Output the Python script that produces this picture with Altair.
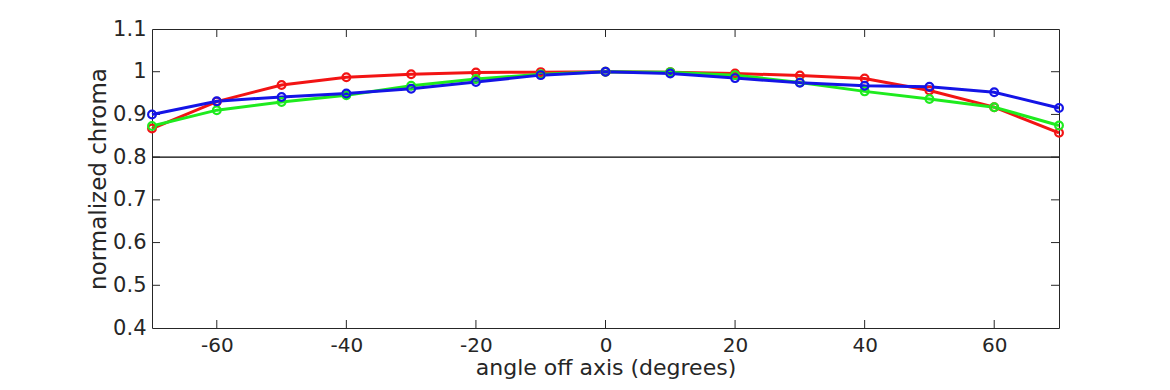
import altair as alt
import pandas as pd

angles = [-70, -60, -50, -40, -30, -20, -10, 0, 10, 20, 30, 40, 50, 60, 70]
red_vals = [0.867, 0.930, 0.969, 0.987, 0.994, 0.998, 0.999, 1.0, 0.999, 0.996, 0.991, 0.984, 0.956, 0.917, 0.857]
green_vals = [0.873, 0.910, 0.929, 0.945, 0.967, 0.983, 0.994, 1.0, 0.999, 0.992, 0.975, 0.954, 0.936, 0.917, 0.874]
blue_vals = [0.900, 0.931, 0.941, 0.949, 0.960, 0.976, 0.992, 1.0, 0.996, 0.985, 0.974, 0.967, 0.965, 0.952, 0.915]
series_names = ["red", "green", "blue"]
series_colors = ["#f21414", "#1eeb1e", "#1414e6"]
x_ticks = [-60, -40, -20, 0, 20, 40, 60]
y_ticks = [0.4, 0.5, 0.6, 0.7, 0.8, 0.9, 1.0, 1.1]
ref_line = [0.8]

rows = []
for name, vals in zip(series_names, [red_vals, green_vals, blue_vals]):
    for a, v in zip(angles, vals):
        rows.append({"angle": a, "value": v, "series": name})
df = pd.DataFrame(rows)

W, H = 907, 299
FONT = "DejaVu Sans"
TXT = "#262626"
TL = 8

xs = alt.Scale(domain=[-70, 70], nice=False, zero=False)
ys = alt.Scale(domain=[0.4, 1.1], nice=False, zero=False)
cs = alt.Scale(domain=series_names, range=series_colors)

x_axis = alt.Axis(values=x_ticks, labelExpr="'' + datum.value", ticks=False, tickSize=0,
                  domain=False, grid=False, labelFontSize=20, labelFont=FONT, labelColor=TXT,
                  labelPadding=7, title="angle off axis (degrees)", titleFontSize=22,
                  titleFont=FONT, titleColor=TXT, titleFontWeight="normal", titlePadding=2)
y_axis = alt.Axis(values=y_ticks, format="~g", ticks=False, tickSize=0, domain=False, grid=False,
                  labelFontSize=21, labelFont=FONT, labelColor=TXT, labelPadding=6,
                  title="normalized chroma", titleFontSize=23, titleFont=FONT, titleColor=TXT,
                  titleFontWeight="normal", titlePadding=2)

base = alt.Chart(df)

lines = base.mark_line(strokeWidth=3).encode(
    x=alt.X("angle:Q", scale=xs, axis=x_axis),
    y=alt.Y("value:Q", scale=ys, axis=y_axis),
    color=alt.Color("series:N", scale=cs, legend=None),
    detail="series:N",
)
points = base.mark_point(filled=False, size=60, strokeWidth=2.2, opacity=1).encode(
    x=alt.X("angle:Q", scale=xs, axis=x_axis),
    y=alt.Y("value:Q", scale=ys, axis=y_axis),
    color=alt.Color("series:N", scale=cs, legend=None),
)

ref = alt.Chart(pd.DataFrame({"v": ref_line})).mark_rule(color="black", strokeWidth=1.2).encode(
    y=alt.Y("v:Q", scale=ys, axis=y_axis)
)

xt = pd.DataFrame({"t": x_ticks})
yt = pd.DataFrame({"t": [v for v in y_ticks if 0.4 < v < 1.1]})
tick_col = TXT
bottom_ticks = alt.Chart(xt).mark_rule(color=tick_col, strokeWidth=1).encode(
    x=alt.X("t:Q", scale=xs, axis=x_axis), y=alt.value(H - TL), y2=alt.value(H))
top_ticks = alt.Chart(xt).mark_rule(color=tick_col, strokeWidth=1).encode(
    x=alt.X("t:Q", scale=xs, axis=x_axis), y=alt.value(0), y2=alt.value(TL))
left_ticks = alt.Chart(yt).mark_rule(color=tick_col, strokeWidth=1).encode(
    y=alt.Y("t:Q", scale=ys, axis=y_axis), x=alt.value(0), x2=alt.value(TL))
right_ticks = alt.Chart(yt).mark_rule(color=tick_col, strokeWidth=1).encode(
    y=alt.Y("t:Q", scale=ys, axis=y_axis), x=alt.value(W - TL), x2=alt.value(W))

chart = alt.layer(
    ref, bottom_ticks, top_ticks, left_ticks, right_ticks,
    lines, points,
).properties(
    width=W, height=H,
    autosize=alt.AutoSizeParams(type="none"),
    padding={"left": 144, "top": 21, "right": 103, "bottom": 54},
).configure(
    background="white",
    view=alt.ViewConfig(stroke=TXT, strokeWidth=1),
)

chart.save("out.html", embed_options={"renderer": "svg", "actions": False})
